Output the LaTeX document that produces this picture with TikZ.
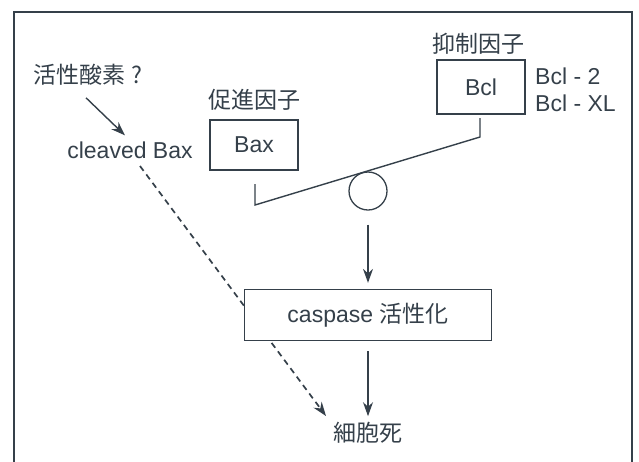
\documentclass[tikz,border=0pt]{standalone}
\usepackage{fontspec}
\setmainfont{Liberation Sans}
\newfontfamily\cjk{Noto Sans CJK JP}
\usetikzlibrary{arrows.meta}
\definecolor{ink}{HTML}{35404A}
\begin{document}
\begin{tikzpicture}[x=1pt,y=-1pt,
  every node/.style={text=ink, font=\fontsize{23}{27}\selectfont, inner sep=0pt},
  box/.style={draw=ink, line width=1.3pt, fill=white},
  conn/.style={draw=ink, line width=1.4pt},
  arr/.style={conn, -{Stealth[length=14pt,width=10pt]}},
  dsh/.style={arr, dash pattern=on 6pt off 4.5pt, line width=1.7pt}]
\useasboundingbox (0,0) rectangle (639,461);
\draw[ink, line width=1.2pt] (14,470) -- (14,12) -- (632,12) -- (632,470);
% labels
\node (ros) at (88,75) {\cjk 活性酸素\ ?};
\node (cbax) at (130,150) {cleaved Bax};
\node (baxlbl) at (254,100) {\cjk 促進因子};
\node (bcllbl) at (478,44) {\cjk 抑制因子};
\node[anchor=west] (bcl2) at (535,76) {Bcl - 2};
\node[anchor=west] (bclxl) at (535,103) {Bcl - XL};
\node[box, minimum width=88pt, minimum height=50pt] (bax) at (254,145) {Bax};
\node[box, minimum width=88pt, minimum height=54pt] (bcl) at (481,87) {Bcl};
\node[draw=ink, line width=1.3pt, circle, minimum size=38pt] (fulc) at (368,191) {};
\node (death) at (368,433) {\cjk 細胞死};
% seesaw
\coordinate (sl1) at (255,184);
\coordinate (sl2) at (255,205);
\coordinate (sr2) at (480,137);
\coordinate (sr1) at (480,118);
\draw[conn] (sl1) -- (sl2) -- (sr2) -- (sr1);
% arrows
\draw[arr] ([shift={(-2,12)}]ros.south) -- ([shift={(-5,-6)}]cbax.north);
\coordinate (dstart) at (140,166);
\coordinate (dend) at (326,416);
\draw[dsh] (dstart) -- (dend);
\node[box, minimum width=247pt, minimum height=51pt] (casp) at (368,315) {caspase {\cjk 活性化}};
\draw[arr] ([yshift=-14pt]fulc.south) -- ([yshift=6pt]casp.north);
\draw[arr] ([yshift=-10pt]casp.south) -- ([yshift=6pt]death.north);
\end{tikzpicture}
\end{document}
